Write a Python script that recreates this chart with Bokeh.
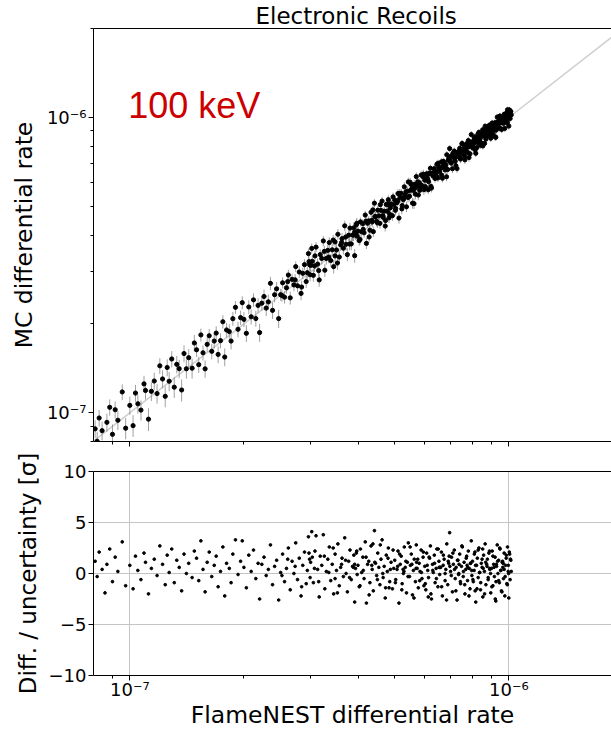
import numpy as np
from bokeh.plotting import figure
from bokeh.models import FixedTicker, LinearAxis, Label, ColumnDataSource
from bokeh.layouts import column
from bokeh.embed import file_html
from bokeh.resources import INLINE

# ---------------- data ----------------
TITLE = "Electronic Recoils"
ENERGY_LABEL = "100 keV"
X_LABEL = "FlameNEST differential rate"
Y_LABEL_TOP = "MC differential rate"
Y_LABEL_BOTTOM = "Diff. / uncertainty [σ]"

RATE_UNIT = 1e-7  # FlameNEST rates below are in units of 1e-7

flamenest_rate = [
    0.81, 0.82, 0.83, 0.845, 0.86, 0.87, 0.885, 0.9, 0.915, 0.93, 0.955, 0.975,
    1.0, 1.02, 1.035, 1.05, 1.07, 1.09, 1.1, 1.12, 1.14, 1.16, 1.18, 1.2, 1.22,
    1.24, 1.255, 1.27, 1.29, 1.31, 1.33, 1.35, 1.37, 1.39, 1.41, 1.43, 1.46, 1.48,
    1.5, 1.52, 1.54, 1.56, 1.58, 1.6, 1.62, 1.645, 1.67, 1.69, 1.71, 1.735, 1.76,
    1.78, 1.8, 1.83, 1.85, 1.87, 1.9, 1.93, 1.96, 1.98,
    2.0, 2.03, 2.06, 2.09, 2.12, 2.15, 2.18, 2.2, 2.23, 2.26, 2.29, 2.32, 2.35,
    2.38, 2.41, 2.44, 2.47, 2.5, 2.53, 2.56, 2.59, 2.62, 2.65, 2.68, 2.71, 2.74,
    2.77, 2.8, 2.83, 2.86, 2.89, 2.92, 2.94, 2.96, 2.98, 2.99,
    3.0, 3.02, 3.05, 3.08, 3.1, 3.13, 3.16, 3.18, 3.21, 3.24, 3.27, 3.3, 3.33,
    3.36, 3.39, 3.42, 3.45, 3.48, 3.51, 3.54, 3.57, 3.6, 3.63, 3.66, 3.69, 3.72,
    3.75, 3.78, 3.81, 3.84, 3.87, 3.9, 3.92, 3.94, 3.96, 3.98,
    4.0, 4.03, 4.06, 4.09, 4.12, 4.15, 4.18, 4.21, 4.24, 4.27, 4.3, 4.33, 4.36,
    4.39, 4.42, 4.45, 4.48, 4.51, 4.54, 4.57, 4.6, 4.63, 4.66, 4.69, 4.72, 4.75,
    4.78, 4.81, 4.85, 4.89, 4.93, 4.97,
    5.0, 5.03, 5.07, 5.1, 5.13, 5.17, 5.2, 5.23, 5.27, 5.3, 5.33, 5.37, 5.4,
    5.43, 5.47, 5.5, 5.53, 5.57, 5.6, 5.63, 5.67, 5.7, 5.73, 5.77, 5.8, 5.83,
    5.87, 5.9, 5.94, 5.97,
    6.0, 6.04, 6.07, 6.11, 6.14, 6.18, 6.21, 6.25, 6.29, 6.32, 6.36, 6.39, 6.43,
    6.46, 6.5, 6.54, 6.57, 6.61, 6.64, 6.68, 6.71, 6.75, 6.79, 6.82, 6.86, 6.9,
    6.94, 6.98,
    7.02, 7.06, 7.1, 7.14, 7.18, 7.22, 7.26, 7.3, 7.34, 7.38, 7.42, 7.46, 7.5,
    7.54, 7.58, 7.62, 7.66, 7.7, 7.74, 7.78, 7.82, 7.86, 7.9, 7.93, 7.96, 7.99,
    8.02, 8.06, 8.1, 8.14, 8.18, 8.22, 8.26, 8.3, 8.34, 8.38, 8.42, 8.46, 8.5,
    8.54, 8.58, 8.62, 8.66, 8.7, 8.74, 8.78, 8.82, 8.86, 8.91, 8.96,
    9.0, 9.04, 9.08, 9.12, 9.16, 9.2, 9.24, 9.28, 9.32, 9.36, 9.4, 9.44, 9.48,
    9.52, 9.56, 9.6, 9.64, 9.68, 9.72, 9.76, 9.8, 9.84, 9.88, 9.92, 9.96, 10.0,
    10.05, 10.1,
    2.52, 2.61, 2.73, 2.84, 2.97, 3.07, 3.15, 3.26, 3.35, 3.44,
    3.53, 3.62, 3.71, 3.8, 3.89, 3.97, 4.05, 4.13, 4.2, 4.28,
    4.35, 4.43, 4.5, 4.58, 4.65, 4.73, 4.8, 4.87, 4.95, 5.02,
    5.09, 5.15, 5.22, 5.29, 5.35, 5.42, 5.49, 5.55, 5.62, 5.69,
    5.75, 5.82, 5.88, 5.95, 6.02, 6.09, 6.16, 6.23, 6.3, 6.37,
    6.44, 6.51, 6.58, 6.65, 6.72, 6.79, 6.85, 6.92, 6.99, 7.05,
    7.12, 7.19, 7.25, 7.32, 7.39, 7.45, 7.52, 7.59, 7.65, 7.72,
    7.79, 7.85, 7.92, 7.98, 8.04, 8.11, 8.17, 8.24, 8.3, 8.37,
    8.43, 8.5, 8.56, 8.63, 8.69, 8.76, 8.82, 8.89, 8.95, 9.02,
    9.08, 9.14, 9.21, 9.27, 9.34, 9.4, 9.46, 9.53, 9.59, 9.66,
    9.72, 9.78, 9.85, 9.91, 9.97, 10.03, 10.08, 10.12, 10.15,
    3.03, 3.48, 3.92, 4.38, 4.83, 5.26, 5.71, 6.13, 6.55, 6.96,
    7.37, 7.76, 8.15, 8.53, 8.9, 9.25, 9.63, 9.99,
]

residual_sigma = [
    1.2, -0.3, 2.1, 0.4, -1.9, 0.9, 2.4, -0.8, 1.6, 0.2, 3.1, -1.2,
    0.8, -1.5, 1.7, 0.3, -0.6, 2.0, 1.1, -2.0, 0.5, 1.4, -0.2, 2.7, 0.9,
    -1.1, 1.8, 0.1, 2.4, -0.9, 1.3, 0.6, -1.7, 1.9, 0.0, 1.0, -0.4, 2.2,
    1.5, -0.7, 3.2, 0.4, -1.8, 1.1, 2.1, -0.3, 0.8, 1.7, -1.3, 0.2, 2.6,
    -2.2, 1.0, 0.5, -0.9, 1.9, 3.3, -0.1, 1.2, 3.2,
    0.6, -1.4, 1.8, 0.2, 2.3, -0.5, 1.0, -2.5, 0.9, 1.6, -0.2, 0.4, 2.8,
    -1.1, 0.7, 1.3, -2.6, 0.1, 1.9, -0.8, 0.5, 2.5, -1.6, 1.2, 0.0, 3.0,
    -0.6, 1.5, -2.2, 0.8, 2.1, -1.0, 0.3, 3.6, 1.4, -0.4,
    1.1, 4.1, -0.9, 2.2, 3.7, 0.4, -2.3, 1.7, 0.8, 3.8, -1.5, 0.2, 1.4,
    2.6, -0.7, 0.9, -2.0, 1.9, 0.3, 2.9, -1.2, 0.6, 1.5, -0.3, 3.5, 0.0,
    -1.8, 1.2, 2.3, -0.6, 0.7, 1.8, -2.8, 0.5, 2.0, -0.1,
    0.8, -1.3, 2.4, 0.1, 1.6, -0.5, 3.1, -2.9, 0.9, 1.2, -0.9, 2.7, 0.4,
    -1.7, 4.2, 1.0, -0.2, 2.0, 0.6, -1.1, 1.4, 3.3, -0.4, 0.7, -2.4, 1.8,
    0.2, 2.5, -0.8, 1.1, -1.5, 0.5,
    1.3, -0.6, 0.4, 2.2, -2.9, 0.9, 1.7, -1.0, 0.0, 2.6, 0.6, -1.9, 1.1,
    3.0, -0.3, 0.8, 1.9, -2.1, 0.3, 1.4, -0.8, 2.8, 0.5, -1.4, 1.0, 0.2,
    2.3, -0.5, 1.6, -1.2,
    0.7, -1.6, 2.0, 0.3, -0.4, 1.5, 2.7, -2.5, 0.9, 0.1, 1.8, -0.9, 0.5,
    2.4, -1.3, 1.2, -0.1, 0.6, 2.1, -2.2, 0.8, 1.4, -0.7, 0.4, 2.9, -1.1,
    1.0, 4.0,
    0.2, 1.6, -1.8, 0.9, 2.3, -0.5, 0.6, -2.6, 1.3, 0.0, 1.9, -1.0, 0.7,
    2.6, -0.3, 1.1, -2.0, 0.4, 1.7, -0.7, 2.2, 0.5, -1.5, 1.0, 3.2, -0.2,
    1.2, -0.8, 0.3, 2.1, -2.8, 0.8, 1.5, -0.4, 2.5, 0.1, -1.6, 1.0, 0.6,
    -2.3, 1.8, 0.2, 2.9, -1.1, 0.9, 1.4, -0.6, 2.0, 0.4, -1.9,
    0.5, 2.2, -1.2, 0.9, -0.3, 1.6, -2.7, 0.7, 2.8, 0.0, 1.3, -0.9, 2.4,
    0.3, -1.7, 1.1, 0.6, -0.5, 2.0, -2.2, 0.8, 1.5, -1.0, 2.6, 0.2, -2.4,
    1.9, 1.4,
    -0.2, 1.4, 0.7, -1.3, 2.0, 0.5, -0.8, 1.7, 0.1, 2.5,
    -1.9, 0.9, 1.3, -0.4, 0.6, 2.2, -1.2, 0.3, 1.6, -2.1,
    0.8, 1.1, -0.6, 2.8, 0.0, -1.4, 1.5, 0.4, 2.3, -0.9,
    0.7, 1.9, -1.6, 0.2, 1.2, -0.3, 2.6, 0.9, -2.4, 0.5,
    1.4, -0.7, 0.1, 2.1, -1.0, 0.8, 1.6, -2.0, 0.3, 1.0,
    -0.5, 2.4, 0.6, -1.3, 1.8, 0.0, -2.6, 1.2, 0.7, -0.2,
    2.0, 0.4, -1.7, 1.3, 0.9, -0.8, 2.7, 0.2, -1.1, 1.5,
    0.6, -2.2, 1.0, 0.3, -0.6, 1.9, 0.8, -1.5, 2.3, 0.1,
    -0.9, 1.4, 0.5, -2.0, 1.1, 0.7, -0.4, 2.2, 0.0, -1.3,
    1.7, 0.6, -2.5, 0.9, 1.2, -0.7, 2.5, 0.3, -1.8, 1.0,
    0.4, -0.3, 1.8, -1.1, 0.8, 2.1, -0.6, 1.3, 0.2,
    1.6, -0.5, 0.9, 2.9, -1.4, 0.4, 1.1, -2.3, 0.6, 1.7,
    -0.1, 0.8, -1.7, 2.4, 0.5, -0.8, 1.2, 0.0,
]

# relative MC uncertainty by FlameNEST-rate band (edges in units of 1e-7)
err_band_edges = [0.8, 1.5, 2.5, 4.0, 6.0, 8.0, 10.3]
err_band_frac = [0.075, 0.06, 0.047, 0.038, 0.031, 0.027]

x_limits = [8.02e-8, 1.866e-6]
y_limits_top = [8.0e-8, 2.0e-6]
y_limits_bottom = [-10, 10]

major_log_ticks = [1e-7, 1e-6]
minor_log_ticks = [8e-8, 9e-8, 2e-7, 3e-7, 4e-7, 5e-7, 6e-7, 7e-7, 8e-7, 9e-7, 2e-6]
log_tick_labels = {1e-7: "10⁻⁷", 1e-6: "10⁻⁶"}
resid_ticks = [-10, -5, 0, 5, 10]
resid_tick_labels = {-10: "−10", -5: "−5", 0: "0", 5: "5", 10: "10"}

# ---------------- derived table ----------------
n = min(len(flamenest_rate), len(residual_sigma))
x = np.array(flamenest_rate[:n]) * RATE_UNIT
r = np.array(residual_sigma[:n])
band = np.clip(np.digitize(np.array(flamenest_rate[:n]), err_band_edges) - 1, 0, len(err_band_frac) - 1)
sigma = x * np.array(err_band_frac)[band]
y = x + r * sigma
src = ColumnDataSource(dict(x=x, y=y, lo=y - sigma, hi=y + sigma, r=r))

FONT = "DejaVu Sans"
TICK_SIZE = "18px"
LABEL_SIZE = "23.5px"


def style_axis(ax, label_size=LABEL_SIZE):
    ax.axis_label_text_font = FONT
    ax.axis_label_text_font_size = label_size
    ax.axis_label_text_font_style = "normal"
    ax.axis_label_text_color = "black"
    ax.major_label_text_font = FONT
    ax.major_label_text_font_size = TICK_SIZE
    ax.major_label_text_color = "black"
    ax.axis_line_color = "black"
    ax.axis_line_width = 1
    ax.major_tick_line_color = "black"
    ax.minor_tick_line_color = "black"
    ax.major_tick_in = 0
    ax.major_tick_out = 5
    ax.minor_tick_in = 0
    ax.minor_tick_out = 3
    ax.axis_label_standoff = 2
    ax.major_label_standoff = 2


def add_top_spine(p):
    ax = LinearAxis(ticker=FixedTicker(ticks=[], minor_ticks=[]))
    ax.axis_line_color = "black"
    ax.major_tick_line_color = None
    ax.minor_tick_line_color = None
    ax.major_label_standoff = 0
    ax.axis_label_standoff = 0
    p.add_layout(ax, "above")


W = 611
H_TOP = 449
H_BOT = 731 - H_TOP

# ---------------- top panel ----------------
top = figure(width=W, height=H_TOP, x_axis_type="log", y_axis_type="log",
             x_range=tuple(x_limits), y_range=tuple(y_limits_top),
             output_backend="svg", toolbar_location=None,
             min_border_left=93, min_border_right=0, min_border_top=24, min_border_bottom=8)
top.outline_line_color = None
top.grid.grid_line_color = None
top.title.text = TITLE
top.title.align = "left"
top.title.offset = 162
top.title.text_font = FONT
top.title.text_font_size = "23px"
top.title.text_font_style = "normal"
top.title.text_color = "black"
top.title.standoff = 0

top.line(x=[x_limits[0], y_limits_top[1]], y=[x_limits[0], y_limits_top[1]],
         line_color="#cfcfcf", line_width=1.5)
top.segment(x0="x", y0="lo", x1="x", y1="hi", source=src,
            line_color="#8a8a8a", line_alpha=0.8, line_width=1)
top.scatter(x="x", y="y", source=src, size=4.2, marker="circle",
            fill_color="black", line_color="black")

top.xaxis.ticker = FixedTicker(ticks=major_log_ticks, minor_ticks=minor_log_ticks)
top.yaxis.ticker = FixedTicker(ticks=major_log_ticks, minor_ticks=minor_log_ticks)
for ax in top.xaxis + top.yaxis:
    style_axis(ax)
top.yaxis.axis_label = Y_LABEL_TOP
top.yaxis.axis_label_standoff = 6
top.yaxis.major_label_overrides = log_tick_labels
top.xaxis.major_label_text_color = None
top.xaxis.major_label_text_font_size = "1px"
top.xaxis.major_label_standoff = 0
top.xaxis.axis_label_standoff = 0
add_top_spine(top)

top.add_layout(Label(x=9.9e-8, y=1.1e-6, text=ENERGY_LABEL,
                     text_font="Liberation Sans", text_font_size="36px",
                     text_color="#cc0000", text_baseline="middle"))

# ---------------- bottom panel ----------------
bot = figure(width=W, height=H_BOT, x_axis_type="log",
             x_range=top.x_range, y_range=tuple(y_limits_bottom),
             output_backend="svg", toolbar_location=None,
             min_border_left=93, min_border_right=0, min_border_top=22, min_border_bottom=56)
bot.outline_line_color = None
bot.xaxis.ticker = FixedTicker(ticks=major_log_ticks, minor_ticks=minor_log_ticks)
bot.yaxis.ticker = FixedTicker(ticks=resid_ticks, minor_ticks=[])
bot.xgrid.ticker = FixedTicker(ticks=major_log_ticks, minor_ticks=[])
bot.ygrid.ticker = FixedTicker(ticks=resid_ticks, minor_ticks=[])
bot.grid.grid_line_color = "#c4c4c4"
bot.grid.grid_line_width = 1
for ax in bot.xaxis + bot.yaxis:
    style_axis(ax)
bot.xaxis.axis_label = X_LABEL
bot.xaxis.major_label_overrides = log_tick_labels
bot.xaxis.major_label_standoff = -2
bot.xaxis.axis_label_standoff = -2
bot.yaxis.axis_label = Y_LABEL_BOTTOM
bot.yaxis.axis_label_text_font_size = "23px"
bot.yaxis.axis_label_standoff = 5
bot.yaxis.major_label_overrides = resid_tick_labels
add_top_spine(bot)

bot.scatter(x="x", y="r", source=src, size=2.7, marker="circle",
            fill_color="black", line_color="black")

layout = column(top, bot, spacing=0)
open("out.html", "w").write(file_html(layout, INLINE))
